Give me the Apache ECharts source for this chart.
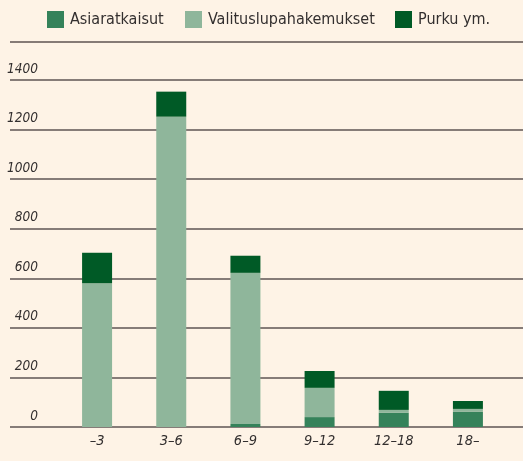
<!DOCTYPE html>
<html><head><meta charset="utf-8">
<script src="https://cdn.jsdelivr.net/npm/echarts@6/dist/echarts.min.js"></script>
<style>html,body{margin:0;padding:0;background:#fef3e6;}#c{width:523px;height:461px;}</style>
</head><body><div id="c"></div>
<script>
var categories = ['–3', '3–6', '6–9', '9–12', '12–18', '18–'];
var asiaratkaisut = [0, 0, 12, 40, 57, 61];
var valitus = [580, 1252, 610, 118, 12, 12];
var purku = [123, 101, 69, 68, 77, 32];
var yTicks = [0, 200, 400, 600, 800, 1000, 1200, 1400];

var FONT = '"DejaVu Sans Condensed", "Liberation Sans Narrow", sans-serif';
var TXT = '#332f2f';
var chart = echarts.init(document.getElementById('c'));
var top0 = 80, bottom0 = 461 - 427;
function legend(name, left) {
  return {
    data: [name], left: left, top: 11, itemWidth: 17, itemHeight: 17, icon: 'rect',
    itemGap: 0, padding: 0,
    textStyle: { fontFamily: FONT, fontSize: 16, color: TXT, padding: [0, 0, 0, 1] },
    selectedMode: false
  };
}
chart.setOption({
  backgroundColor: '#fef3e6',
  animation: false,
  legend: [legend('Asiaratkaisut', 47), legend('Valituslupahakemukset', 185), legend('Purku ym.', 395)],
  graphic: [{ type: 'line', shape: { x1: 10, y1: 42, x2: 523, y2: 42 }, style: { stroke: '#867b76', lineWidth: 2 } }],
  grid: [
    { left: 10, right: 0, top: top0, bottom: bottom0 },
    { left: 60, right: 18, top: top0, bottom: bottom0 }
  ],
  xAxis: [
    { gridIndex: 0, type: 'value', show: false, min: 0, max: 1 },
    { gridIndex: 1, type: 'category', data: categories,
      axisLine: { show: false }, axisTick: { show: false },
      axisLabel: { fontFamily: FONT, fontStyle: 'italic', fontSize: 14.5, color: TXT, margin: 7 } }
  ],
  yAxis: [
    { gridIndex: 0, type: 'value', min: 0, max: 1400, interval: 200,
      axisLine: { show: false }, axisTick: { show: false },
      splitLine: { lineStyle: { color: '#5e5553', width: 1.5 } },
      axisLabel: { inside: true, align: 'right', margin: 28, verticalAlign: 'bottom', padding: [0, 0, 4, 0],
        fontFamily: FONT, fontStyle: 'italic', fontSize: 13.5, color: TXT,
        formatter: function (v) { return yTicks.indexOf(v) >= 0 ? String(v) : ''; } } },
    { gridIndex: 1, type: 'value', min: 0, max: 1400, interval: 200, show: false }
  ],
  series: [
    { name: 'Asiaratkaisut', type: 'bar', stack: 's', xAxisIndex: 1, yAxisIndex: 1, data: asiaratkaisut, barWidth: 30, itemStyle: { color: '#35825a' } },
    { name: 'Valituslupahakemukset', type: 'bar', stack: 's', xAxisIndex: 1, yAxisIndex: 1, data: valitus, barWidth: 30, itemStyle: { color: '#8fb69b' } },
    { name: 'Purku ym.', type: 'bar', stack: 's', xAxisIndex: 1, yAxisIndex: 1, data: purku, barWidth: 30, itemStyle: { color: '#005a26' } }
  ]
});
</script></body></html>
